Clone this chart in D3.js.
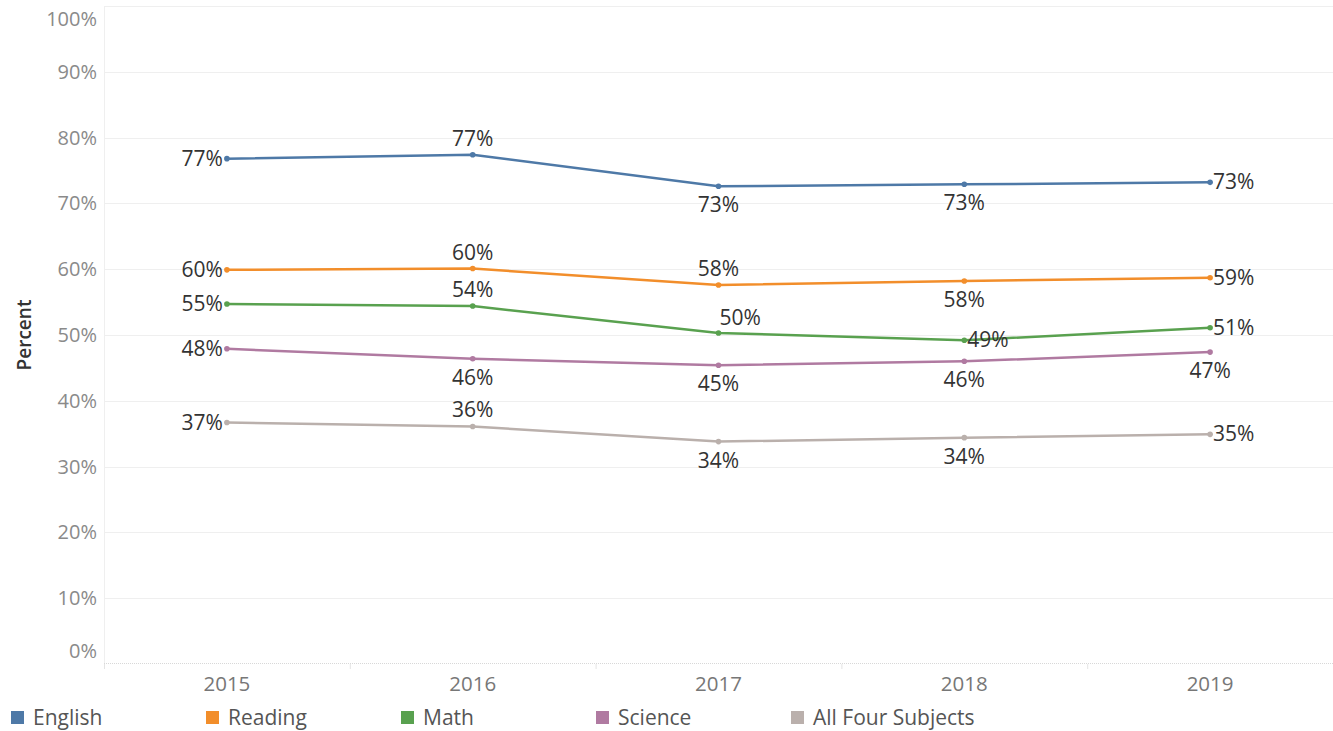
<!DOCTYPE html>
<html>
<head>
<meta charset="utf-8">
<script src="https://cdn.jsdelivr.net/npm/d3@7"></script>
<style>
  body { margin: 0; background: #fff; }
  text { font-family: "Open Sans", sans-serif; }
</style>
</head>
<body>
<div id="chart"></div>
<script>
var years = ["2015", "2016", "2017", "2018", "2019"];
var subjects = ["English", "Reading", "Math", "Science", "All Four Subjects"];
var colors = ["#4e79a7", "#f28e2b", "#59a14f", "#b07aa1", "#bab0ac"];

var english = [76.8, 77.4, 72.6, 72.9, 73.2];
var reading = [59.9, 60.1, 57.6, 58.2, 58.7];
var math = [54.7, 54.4, 50.3, 49.2, 51.1];
var science = [47.9, 46.4, 45.4, 46.0, 47.4];
var allFour = [36.7, 36.1, 33.8, 34.4, 34.9];

// label placement per point: l = left, a = above, b = below, r = right, ar = above right
var englishPos = ["l", "a", "b", "b", "r"];
var readingPos = ["l", "a", "a", "b", "r"];
var mathPos = ["l", "a", "ar", "r", "r"];
var sciencePos = ["l", "b", "b", "b", "b"];
var allFourPos = ["l", "a", "b", "b", "r"];

var yTicks = [0, 10, 20, 30, 40, 50, 60, 70, 80, 90, 100];

var series = [english, reading, math, science, allFour];
var positions = [englishPos, readingPos, mathPos, sciencePos, allFourPos];

var chart_width = 1333;
var chart_height = 731;
var plotLeft = 104, plotRight = 1333, plotTop = 6, plotBottom = 664;

var svg = d3.select("#chart").append("svg")
  .attr("width", chart_width)
  .attr("height", chart_height);

var x_scale = d3.scaleBand().domain(years).range([plotLeft, plotRight]);
var y_scale = d3.scaleLinear().domain([0, 100]).range([plotBottom, plotTop]);

// gridlines
svg.append("g").selectAll("line")
  .data(yTicks.filter(d => d > 0))
  .enter().append("line")
  .attr("x1", plotLeft).attr("x2", plotRight)
  .attr("y1", d => Math.round(y_scale(d)) + 0.5).attr("y2", d => Math.round(y_scale(d)) + 0.5)
  .attr("stroke", "#efefef").attr("stroke-width", 1);

// left border
svg.append("line")
  .attr("x1", plotLeft + 0.5).attr("x2", plotLeft + 0.5)
  .attr("y1", plotTop).attr("y2", plotBottom)
  .attr("stroke", "#efefef");

// bottom axis (dotted) with band ticks
svg.append("line")
  .attr("x1", plotLeft).attr("x2", plotRight)
  .attr("y1", plotBottom - 0.5).attr("y2", plotBottom - 0.5)
  .attr("stroke", "#d8d8d8").attr("stroke-dasharray", "1,1");
svg.append("g").selectAll("line")
  .data(years)
  .enter().append("line")
  .attr("x1", d => x_scale(d) + 0.5).attr("x2", d => x_scale(d) + 0.5)
  .attr("y1", plotBottom).attr("y2", plotBottom + 5)
  .attr("stroke", "#e4e4e4");

// y tick labels
svg.append("g").selectAll("text")
  .data(yTicks)
  .enter().append("text")
  .attr("x", 97)
  .attr("y", function(d) {
    var y = y_scale(d);
    if (d === 100) y += 13;
    if (d === 0) y -= 13;
    return y + 7;
  })
  .attr("text-anchor", "end")
  .attr("font-size", 20)
  .attr("fill", "#8a8a8a")
  .text(d => d + "%");

// x tick labels
svg.append("g").selectAll("text")
  .data(years)
  .enter().append("text")
  .attr("x", d => x_scale(d) + x_scale.bandwidth() / 2)
  .attr("y", 691)
  .attr("text-anchor", "middle")
  .attr("font-size", 20.5)
  .attr("fill", "#777")
  .text(d => d);

// y axis title
svg.append("text")
  .attr("transform", "translate(31,335) rotate(-90)")
  .attr("text-anchor", "middle")
  .attr("font-size", 19)
  .attr("font-weight", 600)
  .attr("fill", "#333")
  .text("Percent");

var line = d3.line()
  .x((d, i) => x_scale(years[i]) + x_scale.bandwidth() / 2)
  .y(d => y_scale(d));

series.forEach(function(vals, s) {
  var g = svg.append("g");
  g.append("path")
    .datum(vals)
    .attr("d", line)
    .attr("fill", "none")
    .attr("stroke", colors[s])
    .attr("stroke-width", 2.5);
  g.selectAll("circle")
    .data(vals)
    .enter().append("circle")
    .attr("cx", (d, i) => x_scale(years[i]) + x_scale.bandwidth() / 2)
    .attr("cy", d => y_scale(d))
    .attr("r", 2.8)
    .attr("fill", colors[s]);
  g.selectAll("text")
    .data(vals)
    .enter().append("text")
    .attr("font-size", 21)
    .attr("fill", "#333")
    .each(function(d, i) {
      var px = x_scale(years[i]) + x_scale.bandwidth() / 2;
      var py = y_scale(d);
      var p = positions[s][i];
      var t = d3.select(this);
      if (p === "l") t.attr("x", px - 4).attr("y", py + 7).attr("text-anchor", "end");
      else if (p === "r") t.attr("x", px + 3).attr("y", py + 7).attr("text-anchor", "start");
      else if (p === "a") t.attr("x", px).attr("y", py - 9).attr("text-anchor", "middle");
      else if (p === "ar") t.attr("x", px + 1).attr("y", py - 8).attr("text-anchor", "start");
      else t.attr("x", px).attr("y", py + 26).attr("text-anchor", "middle");
    })
    .text(d => Math.round(d) + "%");
});

// legend
var legend = svg.append("g").selectAll("g")
  .data(subjects)
  .enter().append("g")
  .attr("transform", (d, i) => "translate(" + (11 + i * 195) + ",711)");
legend.append("rect")
  .attr("width", 13).attr("height", 13)
  .attr("fill", (d, i) => colors[i]);
legend.append("text")
  .attr("x", 22).attr("y", 14)
  .attr("font-size", 21)
  .attr("fill", "#555")
  .text(d => d);
</script>
</body>
</html>
